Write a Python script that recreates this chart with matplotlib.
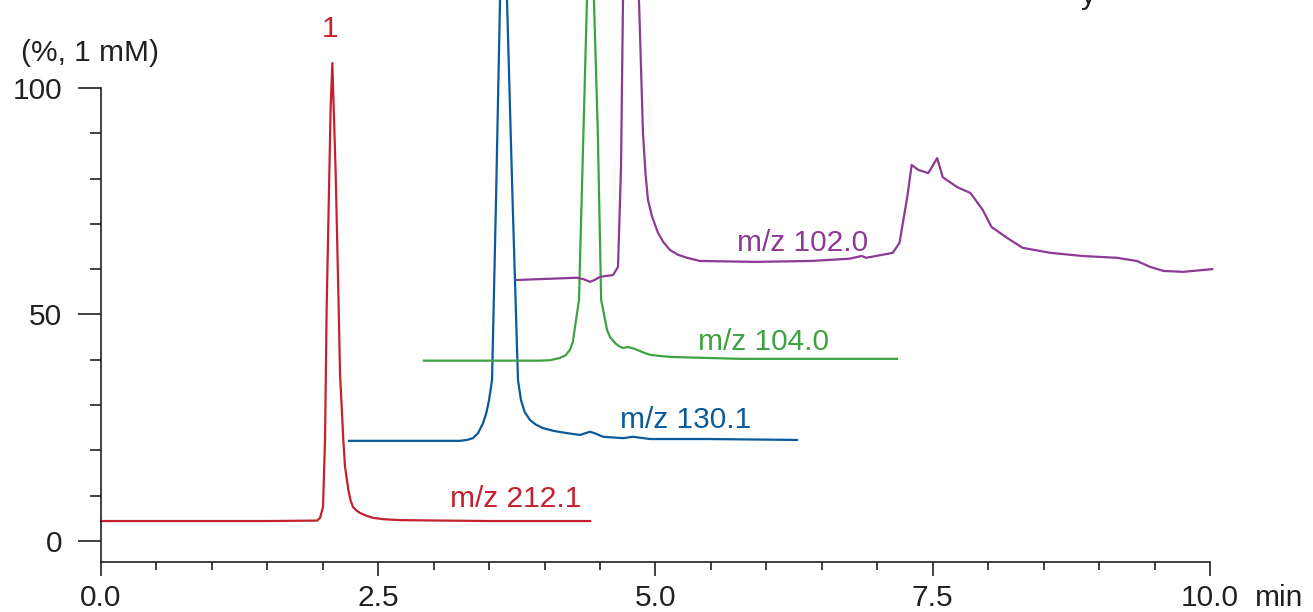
import matplotlib.pyplot as plt
import numpy as np

plt.rcParams['font.family'] = ['Liberation Sans', 'DejaVu Sans']

# traces (time in min, signal in %)
t_212 = [0.0, 1.5, 1.948, 1.975, 2.002, 2.020, 2.035, 2.059, 2.071, 2.086,
         2.098, 2.116, 2.143, 2.155, 2.185, 2.200, 2.230, 2.250, 2.272, 2.300,
         2.335, 2.390, 2.453, 2.550, 2.696, 3.5, 4.41]
v_212 = [4.4, 4.4, 4.5, 5.1, 7.5, 22.3, 51.7, 81.2, 95.8, 105.5,
         95.8, 81.2, 51.7, 37.1, 22.3, 16.5, 11.3, 9.0, 7.5, 6.8,
         6.2, 5.6, 5.1, 4.8, 4.6, 4.4, 4.4]

t_130 = [2.236, 3.237, 3.300, 3.354, 3.400, 3.445, 3.475, 3.499, 3.526, 3.562,
         3.598, 3.629, 3.661, 3.711, 3.760, 3.787, 3.820, 3.868, 3.920, 3.986,
         4.080, 4.202, 4.319, 4.370, 4.409, 4.450, 4.527, 4.707, 4.797, 4.950,
         5.464, 6.276]
v_130 = [22.1, 22.1, 22.3, 22.7, 23.8, 26.0, 28.3, 31.1, 35.5, 75.3,
         119.4, 127.0, 119.4, 75.3, 35.5, 31.1, 28.5, 26.7, 25.7, 24.9,
         24.3, 23.8, 23.4, 23.8, 24.1, 23.8, 23.0, 22.7, 23.0, 22.5,
         22.5, 22.3]

t_104 = [2.912, 3.959, 4.050, 4.139, 4.190, 4.229, 4.255, 4.274, 4.310, 4.350,
         4.382, 4.414, 4.445, 4.480, 4.510, 4.563, 4.590, 4.635, 4.670, 4.707,
         4.752, 4.800, 4.833, 4.890, 4.950, 5.050, 5.158, 5.762, 7.178]
v_104 = [39.8, 39.8, 39.9, 40.4, 41.0, 42.2, 44.0, 47.2, 53.2, 90.0,
         119.4, 127.0, 119.4, 90.0, 53.2, 46.6, 45.0, 43.7, 43.0, 42.6,
         42.8, 42.5, 42.2, 41.6, 41.1, 40.8, 40.6, 40.2, 40.2]

t_102 = [3.742, 4.292, 4.350, 4.409, 4.450, 4.500, 4.617, 4.662, 4.689, 4.707,
         4.780, 4.851, 4.887, 4.910, 4.932, 4.970, 5.023, 5.070, 5.131, 5.200,
         5.284, 5.401, 5.9, 6.4, 6.75, 6.86, 6.90, 7.14, 7.20, 7.27,
         7.31, 7.37, 7.46, 7.54, 7.59, 7.72, 7.84, 7.95, 8.03, 8.17,
         8.31, 8.56, 8.85, 9.16, 9.34, 9.46, 9.58, 9.76, 10.02]
v_102 = [57.6, 58.1, 57.8, 57.2, 57.6, 58.3, 58.7, 60.5, 82.6, 119.4,
         200.0, 119.4, 90.1, 81.0, 75.3, 71.5, 68.0, 66.0, 64.2, 63.2,
         62.5, 61.8, 61.6, 61.8, 62.3, 62.9, 62.5, 63.6, 65.8, 75.9,
         83.0, 81.9, 81.2, 84.5, 80.3, 78.1, 76.8, 73.1, 69.3, 66.9,
         64.7, 63.6, 62.9, 62.5, 61.8, 60.5, 59.6, 59.4, 60.0]

labels = ['m/z 212.1', 'm/z 130.1', 'm/z 104.0', 'm/z 102.0']
label_pos = [(3.74, 7.5), (5.27, 24.9), (5.97, 42.2), (6.33, 64.0)]
colors = ['#C4202E', '#0A5A9C', '#3EA243', '#8C3A94']
traces = [(t_212, v_212), (t_130, v_130), (t_104, v_104), (t_102, v_102)]

axcol = '#231F20'

fig = plt.figure(figsize=(13.13, 6.12), dpi=100)
ax = fig.add_axes([101 / 1313, 50 / 612, 1109 / 1313, 562 / 612])

for (t, v), c, lab, (lx, ly) in zip(traces, colors, labels, label_pos):
    ax.plot(t, v, color=c, lw=1.6, solid_joinstyle='round', clip_on=False)
    ax.text(lx, ly, lab, color=c, fontsize=21.5, ha='center', va='baseline')

# peak number
ax.text(2.065, 111.3, '1', color=colors[0], fontsize=21.5, ha='center', va='baseline')

ax.set_xlim(0, 10)
ax.set_ylim(-4.64, 119.4)

for s in ['top', 'right']:
    ax.spines[s].set_visible(False)
ax.spines['left'].set_bounds(-4.64, 100)
ax.spines['bottom'].set_bounds(0, 10)
for s in ['left', 'bottom']:
    ax.spines[s].set_color(axcol)
    ax.spines[s].set_linewidth(1.2)

ax.set_yticks([0, 50, 100])
ax.set_yticks([10, 20, 30, 40, 60, 70, 80, 90], minor=True)
ax.set_xticks([0, 2.5, 5, 7.5, 10])
ax.set_xticklabels(['0.0', '2.5', '5.0', '7.5', '10.0'])
ax.set_xticks(np.arange(0.5, 10, 0.5), minor=True)

ax.tick_params(axis='y', which='major', length=16.5, width=1.2, pad=11.5,
               color=axcol, labelcolor=axcol, labelsize=21.5)
ax.tick_params(axis='y', which='minor', length=8, width=1.2, color=axcol)
ax.tick_params(axis='x', which='major', length=10, width=1.2, pad=6,
               color=axcol, labelcolor=axcol, labelsize=21.5)
ax.tick_params(axis='x', which='minor', length=6, width=1.2, color=axcol)

fig.text(1255 / 1313, 6 / 612, 'min', fontsize=21.5, color=axcol, va='baseline')
fig.text(90 / 1313, (612 - 61) / 612, '(%, 1 mM)', fontsize=21.5, color=axcol,
         ha='center', va='baseline')
# fragment of a text cut off at the top edge, as in the source
fig.text(1088 / 1313, (612 - 4) / 612, 'y', fontsize=21.5, color=axcol,
         ha='center', va='baseline')

fig.savefig('out.png', dpi=100)
